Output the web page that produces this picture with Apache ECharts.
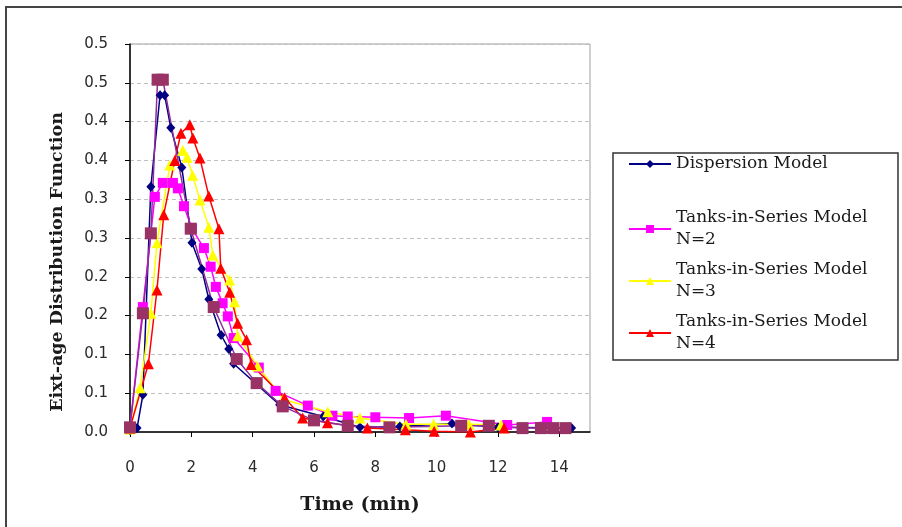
<!DOCTYPE html>
<html>
<head>
<meta charset="utf-8">
<script src="https://cdn.jsdelivr.net/npm/echarts@6/dist/echarts.min.js"></script>
<style>
  html, body { margin: 0; padding: 0; background: #fff; }
  #chart { width: 902px; height: 527px; }
</style>
</head>
<body>
<div id="chart"></div>
<script>
// data (time in min, E(t))
var dispT = [0, 0.23, 0.42, 0.68, 0.98, 1.13, 1.33, 1.69, 2.02, 2.34, 2.57, 2.97, 3.22, 3.38, 4.88, 6.3, 7.5, 8.8, 10.5, 12.0, 14.4];
var dispE = [0.002, 0.005, 0.048, 0.316, 0.434, 0.434, 0.392, 0.341, 0.244, 0.21, 0.171, 0.125, 0.107, 0.088, 0.035, 0.02, 0.006, 0.007, 0.011, 0.006, 0.005];

var n2T = [0, 0.42, 0.81, 1.07, 1.4, 1.56, 1.76, 2.02, 2.41, 2.63, 2.8, 3.02, 3.19, 3.38, 4.2, 4.75, 5.8, 6.6, 7.1, 8.0, 9.1, 10.3, 12.3, 13.6];
var n2E = [0.006, 0.161, 0.303, 0.321, 0.321, 0.314, 0.291, 0.262, 0.237, 0.213, 0.187, 0.166, 0.149, 0.121, 0.083, 0.053, 0.034, 0.021, 0.02, 0.019, 0.018, 0.021, 0.009, 0.013];

var n3T = [0, 0.33, 0.68, 0.88, 1.3, 1.72, 1.86, 2.04, 2.28, 2.57, 2.7, 3.25, 3.41, 3.51, 4.16, 5.0, 6.45, 7.5, 9.0, 9.9, 11.05, 12.1];
var n3E = [0.004, 0.057, 0.153, 0.244, 0.344, 0.363, 0.354, 0.331, 0.299, 0.264, 0.228, 0.196, 0.168, 0.124, 0.085, 0.042, 0.026, 0.018, 0.010, 0.010, 0.010, 0.009];

var n4T = [0, 0.6, 0.88, 1.1, 1.46, 1.66, 1.95, 2.05, 2.28, 2.57, 2.9, 2.96, 3.25, 3.51, 3.8, 3.95, 5.04, 5.63, 6.44, 7.74, 8.98, 9.92, 11.1, 12.2];
var n4E = [0.005, 0.088, 0.183, 0.28, 0.35, 0.385, 0.396, 0.379, 0.353, 0.304, 0.262, 0.211, 0.18, 0.14, 0.119, 0.087, 0.044, 0.018, 0.012, 0.005, 0.003, 0.001, 0.0, 0.005];

var expT = [0, 0.42, 0.68, 0.9, 1.07, 1.98, 2.73, 3.48, 4.13, 4.98, 6.0, 7.1, 8.46, 10.8, 11.7, 12.8, 13.4, 13.8, 14.2];
var expE = [0.006, 0.153, 0.256, 0.454, 0.454, 0.262, 0.161, 0.094, 0.063, 0.033, 0.015, 0.008, 0.006, 0.008, 0.008, 0.005, 0.005, 0.005, 0.005];

var xTicks = [0, 2, 4, 6, 8, 10, 12, 14];
var yTickLabels = ['0.0', '0.1', '0.1', '0.2', '0.2', '0.3', '0.3', '0.4', '0.4', '0.5', '0.5'];

var names = ['Dispersion Model', 'Tanks-in-Series Model\nN=2', 'Tanks-in-Series Model\nN=3', 'Tanks-in-Series Model\nN=4'];

function pairs(t, e) {
    var out = [];
    for (var i = 0; i < t.length; i++) out.push([t[i], e[i]]);
    return out;
}

var serif = '"DejaVu Serif", serif';
var sans = '"DejaVu Sans", sans-serif';

var myChart = echarts.init(document.getElementById('chart'));

function lineSeries(name, t, e, color, lineColor, symbol, size) {
    return {
        name: name,
        type: 'line',
        data: pairs(t, e),
        symbol: symbol,
        symbolSize: size,
        lineStyle: { color: lineColor, width: 1.5 },
        itemStyle: { color: color },
        emphasis: { disabled: true },
        animation: false
    };
}

var legendText = { fontFamily: serif, fontSize: 17, color: '#1a1a1a', lineHeight: 22 };

var option = {
    animation: false,
    graphic: [
        { type: 'rect', shape: { x: 6, y: 7, width: 1000, height: 1000 },
          style: { fill: 'none', stroke: '#454545', lineWidth: 2 } },
        { type: 'rect', shape: { x: 613, y: 153, width: 285, height: 207 },
          style: { fill: 'none', stroke: '#333', lineWidth: 1.5 } }
    ],
    grid: {
        left: 130, top: 44, width: 460, height: 388,
        show: true, borderColor: '#a0a0a0', borderWidth: 1
    },
    legend: [{
        orient: 'vertical',
        left: 628, top: 153,
        padding: 0,
        itemWidth: 42, itemHeight: 10,
        selectedMode: false,
        textStyle: legendText,
        data: [names[0]]
    }, {
        orient: 'vertical',
        left: 628, top: 196,
        padding: 0,
        itemGap: -14,
        itemWidth: 42, itemHeight: 10,
        selectedMode: false,
        textStyle: Object.assign({ padding: [22, 0, 0, 0] }, legendText),
        data: [names[1], names[2], names[3]]
    }],
    xAxis: {
        type: 'value',
        min: 0, max: 15, interval: 2,
        name: 'Time (min)',
        nameLocation: 'middle',
        nameGap: 64,
        nameTextStyle: { fontFamily: serif, fontWeight: 'bold', fontSize: 19, color: '#1a1a1a' },
        axisLine: { lineStyle: { color: '#000', width: 1.5 } },
        axisTick: { show: true, length: 5, lineStyle: { color: '#000' } },
        axisLabel: {
            margin: 29, showMaxLabel: false,
            fontFamily: sans, fontSize: 15, color: '#2a2a2a',
            formatter: function (v) { return xTicks.indexOf(v) >= 0 ? String(v) : ''; }
        },
        splitLine: { show: false }
    },
    yAxis: {
        type: 'value',
        min: 0, max: 0.5, interval: 0.05,
        name: 'Eixt-age Distribution Function',
        nameLocation: 'middle',
        nameGap: 64,
        nameTextStyle: {
            fontFamily: serif, fontWeight: 'bold', fontSize: 17.5, color: '#1a1a1a',
            padding: [0, 48, 0, 0]
        },
        axisLine: { show: true, lineStyle: { color: '#000', width: 1.5 } },
        axisTick: { show: true, length: 5, lineStyle: { color: '#000' } },
        axisLabel: {
            margin: 22,
            fontFamily: sans, fontSize: 15, color: '#2a2a2a',
            formatter: function (v) { return yTickLabels[Math.round(v / 0.05)]; }
        },
        splitLine: { lineStyle: { color: '#c0c0c0', type: [4, 3], width: 1 } }
    },
    series: [
        lineSeries(names[0], dispT, dispE, '#000080', '#000080', 'diamond', [9, 10]),
        lineSeries(names[1], n2T, n2E, '#ff00ff', '#ff00ff', 'rect', 10),
        lineSeries(names[2], n3T, n3E, '#ffff00', '#ffff00', 'triangle', 11),
        lineSeries(names[3], n4T, n4E, '#ff0000', '#ff0000', 'triangle', 11),
        lineSeries('Experimental', expT, expE, '#993366', '#8e2b9e', 'rect', 12)
    ]
};

myChart.setOption(option);
</script>
</body>
</html>
